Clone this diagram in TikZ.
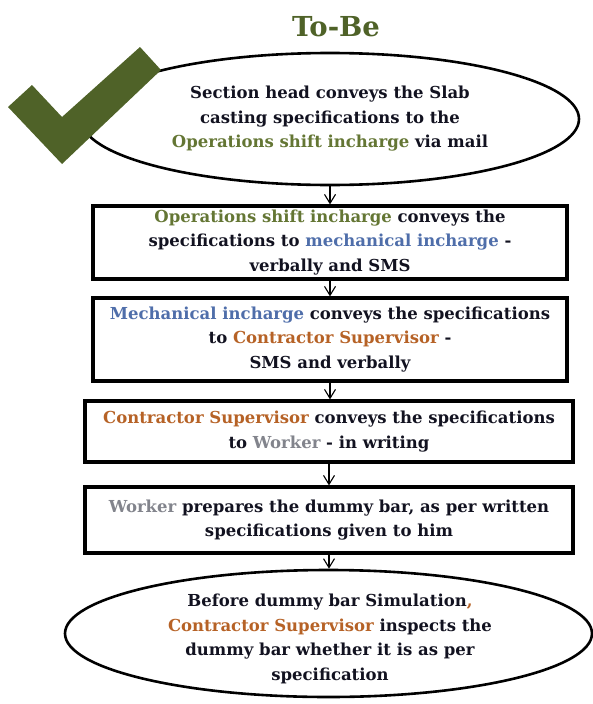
\documentclass[tikz,border=0pt]{standalone}
\usepackage{fontspec}
\setmainfont{DejaVu Serif}
\usetikzlibrary{shapes.geometric,arrows.meta}

\definecolor{olivemark}{RGB}{79,98,40}
\definecolor{opsgreen}{RGB}{100,118,52}
\definecolor{mechblue}{RGB}{79,110,170}
\definecolor{contrbrown}{RGB}{182,98,38}
\definecolor{workergray}{RGB}{130,132,140}
\definecolor{inkblack}{RGB}{18,18,32}

\newcommand\opsc[1]{\textcolor{opsgreen}{#1}}
\newcommand\mechc[1]{\textcolor{mechblue}{#1}}
\newcommand\contc[1]{\textcolor{contrbrown}{#1}}
\newcommand\workc[1]{\textcolor{workergray}{#1}}

\begin{document}
\begin{tikzpicture}[x=1pt,y=-1pt,
  txt/.style={align=center,inner sep=0pt,text=inkblack,
    font=\fontsize{16.5}{24.5}\selectfont\bfseries},
  stepbox/.style={txt,draw=black,line width=3.2pt,rectangle},
  oval/.style={draw=black,line width=2.6pt,ellipse,inner sep=0pt},
  flow/.style={line width=1.1pt,-{Straight Barb[length=9pt,width=11pt,line width=1.1pt]}}]
\useasboundingbox (0,0) rectangle (593,704);

% heading
\node[text=olivemark,font=\fontsize{27.5}{30}\selectfont\bfseries] (title) at (336,27) {To-Be};

% first step: oval
\node[oval,minimum width=498pt,minimum height=132pt] (e1) at (330,119) {};
\node[txt] (e1t) at (330,119) {Section head conveys the Slab\\
  casting specifications to the\\
  \opsc{Operations shift incharge} via mail};

% tick mark over the oval's left end
\fill[olivemark] (8,107) -- (32,85) -- (62,117) -- (140,47) -- (161,70) -- (62,164) -- cycle;

% rectangular steps
\node[stepbox,minimum width=474pt,minimum height=73pt] (b1) at (330,242.5)
  {\opsc{Operations shift incharge} conveys the\\
   specifications to \mechc{mechanical incharge} -\\
   verbally and SMS};
\node[stepbox,minimum width=474pt,minimum height=83pt] (b2) at (330,339.5)
  {\mechc{Mechanical incharge} conveys the specifications\\
   to \contc{Contractor Supervisor} -\\
   SMS and verbally};
\node[stepbox,minimum width=488pt,minimum height=61pt] (b3) at (329,431.5)
  {\contc{Contractor Supervisor} conveys the specifications\\
   to \workc{Worker} - in writing};
\node[stepbox,minimum width=488pt,minimum height=66pt] (b4) at (329,520)
  {\workc{Worker} prepares the dummy bar, as per written\\
   specifications given to him};

% last step: oval
\node[oval,minimum width=527pt,minimum height=127pt] (e2) at (328.5,633.5) {};
\node[txt] (e2t) at (330,639) {Before dummy bar Simulation\contc{,}\\
  \contc{Contractor Supervisor} inspects the\\
  dummy bar whether it is as per\\
  specification};

% connectors
\draw[flow] (e1.south) -- (b1.north);
\draw[flow] (b1.south) -- (b2.north);
\draw[flow] (b2.south) -- (b2.south |- b3.north);
\draw[flow] (b3.south) -- (b4.north);
\draw[flow] (b4.south) -- (b4.south |- e2.north);
\end{tikzpicture}
\end{document}
